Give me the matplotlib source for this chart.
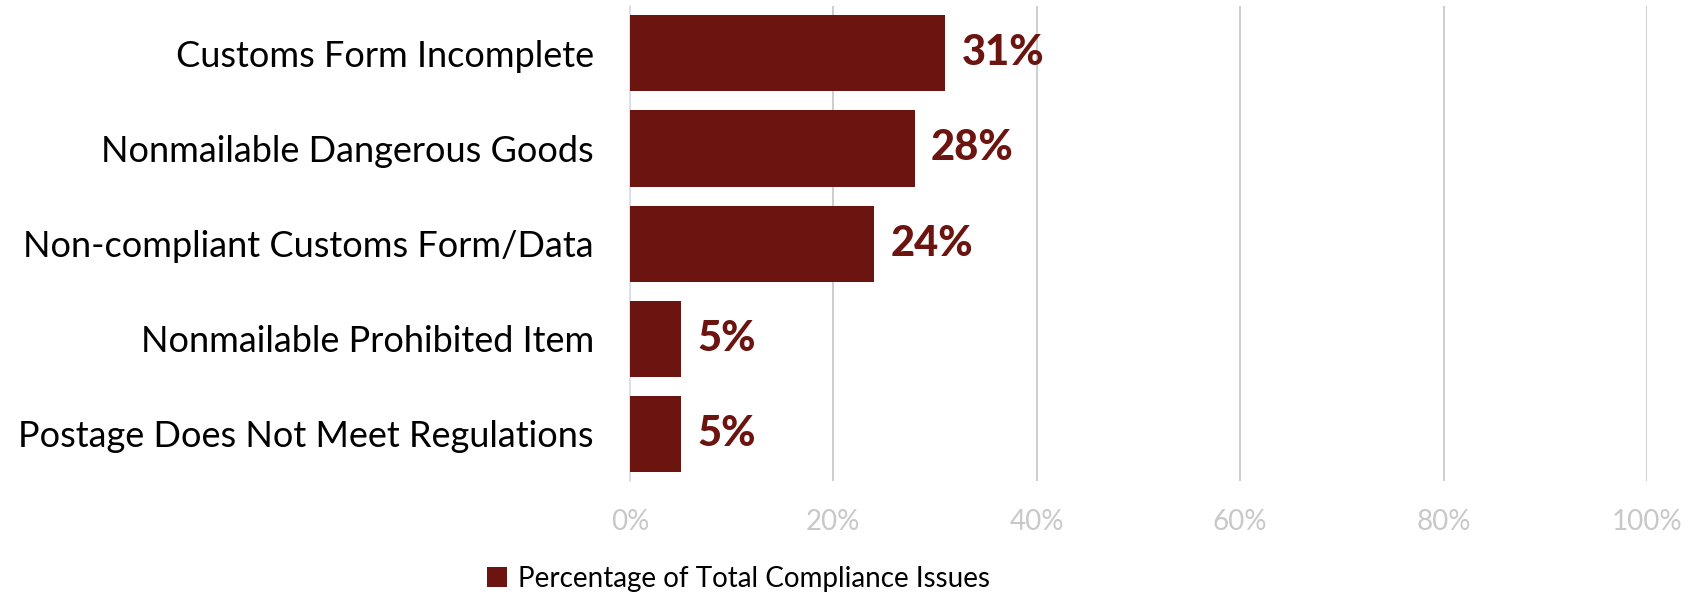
import matplotlib.pyplot as plt
import matplotlib.ticker as mticker

# data
categories = [
    "Customs Form Incomplete",
    "Nonmailable Dangerous Goods",
    "Non-compliant Customs Form/Data",
    "Nonmailable Prohibited Item",
    "Postage Does Not Meet Regulations",
]
values = [31, 28, 24, 5, 5]
series_name = "Percentage of Total Compliance Issues"
xticks = [0, 20, 40, 60, 80, 100]

BAR = "#6b1410"
GRID = "#c9c9c9"

plt.rcParams["font.family"] = ["Lato", "DejaVu Sans"]

fig = plt.figure(figsize=(16.94, 5.94), dpi=100)
ax = fig.add_axes([0.3719, 0.190, 0.6004, 0.800])

y = list(range(len(categories)))
bars = ax.barh(y, values, height=0.8, color=BAR, label=series_name, zorder=3)
ax.set_ylim(len(categories) - 0.5, -0.5)
ax.set_xlim(0, 100)

for yi, v in zip(y, values):
    ax.text(v + 1.6, yi, f"{v}%", va="center", ha="left", fontsize=30,
            fontweight="black", color=BAR)

ax.set_yticks(y)
ax.set_yticklabels(categories, fontsize=26)
ax.tick_params(axis="y", length=0, pad=26)
ax.set_xticks(xticks)
ax.xaxis.set_major_formatter(mticker.FuncFormatter(lambda v, p: f"{v:.0f}%"))
ax.tick_params(axis="x", length=0, pad=20, labelsize=20, labelcolor="#c8c8c8")
ax.grid(axis="x", color=GRID, linewidth=1.3, zorder=0)

for s in ["top", "right", "bottom"]:
    ax.spines[s].set_visible(False)
ax.spines["left"].set_color("#dcdcf0")
ax.spines["left"].set_linewidth(1.3)

fig.legend(handles=[bars], labels=[series_name], loc="center",
           bbox_to_anchor=(0.436, 0.026), frameon=False, fontsize=20,
           handlelength=0.7, handleheight=0.7, handletextpad=0.4,
           borderpad=0.1)

fig.savefig("out.png", facecolor="white")
